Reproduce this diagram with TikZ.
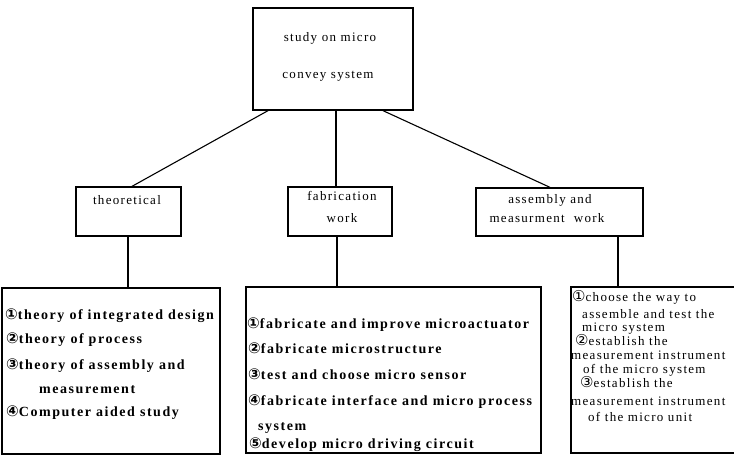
\documentclass[tikz,border=0pt]{standalone}
\usepackage{fontspec}
\setmainfont{Liberation Serif}[LetterSpace=10]
\newfontfamily\bldfont{Liberation Serif}[LetterSpace=11]
\newfontfamily\circfont{DejaVu Sans}
\newcommand\cnum[1]{{\circfont\fontsize{15}{15}\selectfont #1}}
\begin{document}
\begin{tikzpicture}[x=1pt,y=-1pt,
  box/.style={draw, line width=1.3pt, inner sep=0pt},
  conn/.style={line width=1.1pt},
  lbl/.style={inner sep=0pt, anchor=base west},
  ctr/.style={inner sep=0pt, anchor=base},
  reg/.style={font=\fontsize{13}{13}\selectfont},
  bld/.style={font=\bldfont\fontsize{14}{14}\selectfont\bfseries}]
\useasboundingbox (0,0) rectangle (734,464);
% boxes
\node[box, minimum width=160pt, minimum height=102pt] (top) at (333,59) {};
\node[box, minimum width=105pt, minimum height=49pt] (theo) at (128.5,211.5) {};
\node[box, minimum width=104pt, minimum height=49pt] (fab) at (340,211.5) {};
\node[box, minimum width=167pt, minimum height=48pt] (asm) at (559.5,212) {};
\node[box, minimum width=218pt, minimum height=166pt] (lbox) at (111,371) {};
\node[box, minimum width=295pt, minimum height=166pt] (mbox) at (393.5,370) {};
\node[box, minimum width=174pt, minimum height=166pt] (rbox) at (658,370) {};
% connectors
\draw[conn] ([xshift=-65pt]top.south) -- ([xshift=3.5pt]theo.north);
\draw[conn] ([xshift=3pt]top.south) -- ([xshift=-4pt]fab.north);
\draw[conn] ([xshift=50pt]top.south) -- ([xshift=-9.5pt]asm.north);
\draw[conn] ([xshift=-0.5pt]theo.south) -- ([xshift=-0.5pt]theo.south |- lbox.north);
\draw[conn] ([xshift=-3pt]fab.south) -- ([xshift=-3pt]fab.south |- mbox.north);
\draw[conn] ([xshift=58.5pt]asm.south) -- ([xshift=58.5pt]asm.south |- rbox.north);
% top texts
\node[ctr, reg] (t1) at (330,41) {study on micro};
\node[ctr, reg] (t2) at (328,78) {convey system};
\node[ctr, reg] (th1) at (127,204) {theoretical};
\node[ctr, reg] (f1) at (342,200) {fabrication};
\node[ctr, reg] (f2) at (342,222) {work};
\node[ctr, reg] (a1) at (550,203) {assembly and};
\node[ctr, reg] (a2) at (547,222) {measurment\ \ work};
% left box
\node[lbl, bld] (l1) at (5,319) {\cnum{①}theory of integrated design};
\node[lbl, bld] (l2) at (6,343) {\cnum{②}theory of process};
\node[lbl, bld] (l3) at (6,369) {\cnum{③}theory of assembly and};
\node[lbl, bld] (l4) at (39,393) {measurement};
\node[lbl, bld] (l5) at (6,416) {\cnum{④}Computer aided study};
% middle box
\node[lbl, bld] (m1) at (247,328) {\cnum{①}fabricate and improve microactuator};
\node[lbl, bld] (m2) at (248,353) {\cnum{②}fabricate microstructure};
\node[lbl, bld] (m3) at (248,379) {\cnum{③}test and choose micro sensor};
\node[lbl, bld] (m4) at (248,405) {\cnum{④}fabricate interface and micro process};
\node[lbl, bld] (m5) at (258,430) {system};
\node[lbl, bld] (m6) at (249,448) {\cnum{⑤}develop micro driving circuit};
% right box
\node[lbl, reg] (r1) at (572,301) {\cnum{①}choose the way to};
\node[lbl, reg] (r2) at (582,318) {assemble and test the};
\node[lbl, reg] (r3) at (582,331) {micro system};
\node[lbl, reg] (r4) at (575,345) {\cnum{②}establish the};
\node[lbl, reg] (r5) at (571,359) {measurement instrument};
\node[lbl, reg] (r6) at (583,373) {of the micro system};
\node[lbl, reg] (r7) at (580,387) {\cnum{③}establish the};
\node[lbl, reg] (r8) at (571,405) {measurement instrument};
\node[lbl, reg] (r9) at (588,421) {of the micro unit};
\end{tikzpicture}
\end{document}
